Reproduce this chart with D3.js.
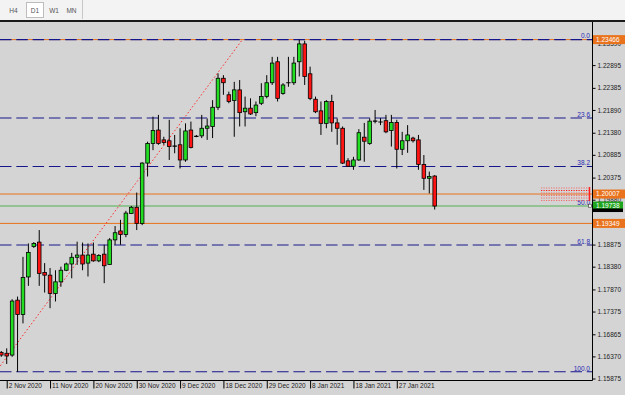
<!DOCTYPE html>
<html>
<head>
<meta charset="utf-8">
<script src="https://cdn.jsdelivr.net/npm/d3@7"></script>
<style>
body { margin: 0; background: #d4d4d4; }
svg { display: block; font-family: "Liberation Sans", Arial, sans-serif; }
</style>
</head>
<body>
<div id="chart"></div>
<script>
//Daily bars (server has Sunday bars, no 25 Dec / 1 Jan)
var dates = ["2020-11-01", "2020-11-02", "2020-11-03", "2020-11-04", "2020-11-05", "2020-11-06",
    "2020-11-08", "2020-11-09", "2020-11-10", "2020-11-11", "2020-11-12", "2020-11-13",
    "2020-11-15", "2020-11-16", "2020-11-17", "2020-11-18", "2020-11-19", "2020-11-20",
    "2020-11-22", "2020-11-23", "2020-11-24", "2020-11-25", "2020-11-26", "2020-11-27",
    "2020-11-29", "2020-11-30", "2020-12-01", "2020-12-02", "2020-12-03", "2020-12-04",
    "2020-12-06", "2020-12-07", "2020-12-08", "2020-12-09", "2020-12-10", "2020-12-11",
    "2020-12-13", "2020-12-14", "2020-12-15", "2020-12-16", "2020-12-17", "2020-12-18",
    "2020-12-20", "2020-12-21", "2020-12-22", "2020-12-23", "2020-12-24",
    "2020-12-27", "2020-12-28", "2020-12-29", "2020-12-30", "2020-12-31",
    "2021-01-03", "2021-01-04", "2021-01-05", "2021-01-06", "2021-01-07", "2021-01-08",
    "2021-01-10", "2021-01-11", "2021-01-12", "2021-01-13", "2021-01-14", "2021-01-15",
    "2021-01-17", "2021-01-18", "2021-01-19", "2021-01-20", "2021-01-21", "2021-01-22",
    "2021-01-24", "2021-01-25", "2021-01-26", "2021-01-27", "2021-01-28", "2021-01-29",
    "2021-01-31", "2021-02-01", "2021-02-02", "2021-02-03", "2021-02-04"];

var opens = [1.1646, 1.1644, 1.1640, 1.1763, 1.1731, 1.1815, 1.1883, 1.1893, 1.1825, 1.1819,
    1.1778, 1.1804, 1.1830, 1.1844, 1.1859, 1.1864, 1.1846, 1.1866, 1.1851, 1.1866,
    1.1843, 1.1898, 1.1918, 1.1910, 1.1957, 1.1971, 1.1935, 1.2070, 1.2114, 1.2144,
    1.2122, 1.2120, 1.2109, 1.2111, 1.2077, 1.2144, 1.2131, 1.2131, 1.2148, 1.2152,
    1.2195, 1.2260, 1.2223, 1.2210, 1.2234, 1.2185, 1.2193, 1.2183, 1.2204, 1.2219,
    1.2250, 1.2297, 1.2226, 1.2249, 1.2250, 1.2297, 1.2337, 1.2270, 1.2213, 1.2187,
    1.2159, 1.2208, 1.2160, 1.2148, 1.2075, 1.2063, 1.2077, 1.2128, 1.2114, 1.2165,
    1.2163, 1.2165, 1.2143, 1.2161, 1.2101, 1.2120, 1.2126, 1.2122, 1.2067, 1.2036,
    1.2041];
var highs = [1.1649, 1.1655, 1.1765, 1.1771, 1.1860, 1.1890, 1.1893, 1.1920, 1.1846, 1.1835,
    1.1830, 1.1838, 1.1847, 1.1869, 1.1894, 1.1892, 1.1890, 1.1892, 1.1866, 1.1887,
    1.1902, 1.1929, 1.1943, 1.1963, 1.1974, 1.2004, 1.2072, 1.2118, 1.2174, 1.2178,
    1.2129, 1.2167, 1.2133, 1.2148, 1.2159, 1.2163, 1.2133, 1.2178, 1.2170, 1.2211,
    1.2271, 1.2267, 1.2230, 1.2252, 1.2256, 1.2219, 1.2215, 1.2208, 1.2249, 1.2267,
    1.2308, 1.2308, 1.2249, 1.2308, 1.2308, 1.23466, 1.2344, 1.2286, 1.2219, 1.2208,
    1.2211, 1.2223, 1.2170, 1.2152, 1.2081, 1.2084, 1.2146, 1.2160, 1.2170, 1.2189,
    1.2171, 1.2178, 1.2178, 1.2167, 1.2140, 1.2155, 1.2129, 1.2133, 1.2088, 1.2051,
    1.2043];
var lows = [1.1636, 1.1620, 1.1636, 1.1602, 1.1711, 1.1795, 1.1880, 1.1795, 1.1780, 1.1745,
    1.1760, 1.1793, 1.1828, 1.1812, 1.1842, 1.1830, 1.1816, 1.1849, 1.1848, 1.1801,
    1.1842, 1.1887, 1.1887, 1.1904, 1.1956, 1.1920, 1.1931, 1.2040, 1.2099, 1.2111,
    1.2111, 1.2077, 1.2092, 1.2058, 1.2073, 1.2103, 1.2128, 1.2126, 1.2122, 1.2126,
    1.2189, 1.2223, 1.2204, 1.2129, 1.2152, 1.2152, 1.2178, 1.2175, 1.2200, 1.2215,
    1.2245, 1.2208, 1.2223, 1.2241, 1.2245, 1.2264, 1.2245, 1.2211, 1.2182, 1.2133,
    1.2148, 1.2140, 1.2111, 1.2068, 1.2062, 1.2055, 1.2075, 1.2073, 1.2111, 1.2159,
    1.2155, 1.2137, 1.2107, 1.2058, 1.2088, 1.2093, 1.2116, 1.2055, 1.2010, 1.2002,
    1.1966];
var closes = [1.1640, 1.1638, 1.1761, 1.1731, 1.1814, 1.1870, 1.1890, 1.1823, 1.1819, 1.1778,
    1.1804, 1.1830, 1.1844, 1.1859, 1.1864, 1.1844, 1.1864, 1.1851, 1.1863, 1.1840,
    1.1898, 1.1914, 1.1910, 1.1958, 1.1971, 1.1935, 1.2070, 1.2114, 1.2143, 1.2114,
    1.2116, 1.2107, 1.2108, 1.2077, 1.2142, 1.2105, 1.2130, 1.2148, 1.2153, 1.2195,
    1.2260, 1.2250, 1.2208, 1.2234, 1.2183, 1.2193, 1.2180, 1.2200, 1.2219, 1.2250,
    1.2294, 1.2215, 1.2245, 1.2250, 1.2294, 1.2337, 1.2264, 1.2215, 1.2185, 1.2159,
    1.2208, 1.2160, 1.2148, 1.2070, 1.2063, 1.2077, 1.2138, 1.2119, 1.2164, 1.2164,
    1.2162, 1.2140, 1.2161, 1.2101, 1.2120, 1.2133, 1.2120, 1.2067, 1.2036, 1.2040,
    1.19738];

var priceTicks = [1.23390, 1.22895, 1.22385, 1.21890, 1.21380, 1.20885, 1.20375, 1.19880,
    1.19370, 1.18875, 1.18380, 1.17870, 1.17375, 1.16865, 1.16370, 1.15875];

//Fibonacci retracement
var fibHigh = 1.23466;
var fibLow = 1.16025;
var fibLevels = [0, 23.6, 38.2, 50, 61.8, 100];
var fibAnchorStart = -1;     //bar index of the low anchor
var fibAnchorEnd = 44.5;     //bar index of the high anchor

var orangeLevels = [1.23466, 1.20007, 1.19349];
var bidPrice = 1.19738;
var periods = ["H4", "D1", "W1", "MN"];

var width = 625, height = 395;
var plotRight = 592.5, plotTop = 22, plotBottom = 380.5;

var svg = d3.select("#chart")
    .append("svg")
    .attr("width", width)
    .attr("height", height);

//toolbar
svg.append("rect").attr("width", width).attr("height", 20).attr("fill", "#f3f3f3");
svg.append("rect").attr("x", 26.5).attr("y", 2.5).attr("width", 17).attr("height", 15)
    .attr("fill", "#fff").attr("stroke", "#bdbdbd");
var btnX = [13.5, 35, 54, 71.5];
svg.selectAll("text.period")
    .data(periods)
    .enter()
    .append("text")
    .attr("class", "period")
    .attr("x", function (d, i) { return btnX[i]; })
    .attr("y", 13)
    .attr("text-anchor", "middle")
    .attr("font-size", "6.5px")
    .attr("fill", "#555")
    .text(function (d) { return d; });
svg.append("line").attr("x1", 82.5).attr("x2", 82.5).attr("y1", 0).attr("y2", 19)
    .attr("stroke", "#c8c8c8");
svg.append("rect").attr("y", 20).attr("width", width).attr("height", 2).attr("fill", "#1a1a1a");

//chart background
svg.append("rect").attr("y", plotTop).attr("width", width).attr("height", height - plotTop)
    .attr("fill", "#d4d4d4");

svg.append("clipPath").attr("id", "plot")
    .append("rect").attr("x", 0).attr("y", plotTop).attr("width", plotRight).attr("height", plotBottom - plotTop);

//scales
var x = d3.scaleLinear().domain([0, 80]).range([1.3, 434.7]);
var y = d3.scaleLinear().domain([1.15875, 1.23390]).range([378.5, 43]);

var plot = svg.append("g").attr("clip-path", "url(#plot)");

//price axis
var yAxis = svg.append("g")
    .attr("transform", "translate(" + plotRight + ",0)")
    .call(d3.axisRight(y).tickValues(priceTicks).tickSize(3).tickPadding(2)
        .tickFormat(d3.format(".5f")));
yAxis.select(".domain").remove();
yAxis.selectAll("text").attr("font-size", "6.5px").attr("fill", "#222").attr("font-family", null);

//time axis
var parse = d3.timeParse("%Y-%m-%d");
var fmt = d3.timeFormat("%-d %b %Y");
var tickIdx = d3.range(1, dates.length, 8);
var xAxis = svg.append("g")
    .attr("transform", "translate(0," + plotBottom + ")")
    .call(d3.axisBottom(x).tickValues(tickIdx).tickSize(8)
        .tickFormat(function (i) { return fmt(parse(dates[i])); }));
xAxis.select(".domain").remove();
xAxis.selectAll("text")
    .attr("text-anchor", "start")
    .attr("x", 1.5)
    .attr("y", 3)
    .attr("font-size", "6.5px")
    .attr("fill", "#222")
    .attr("font-family", null);

//horizontal orange lines
plot.selectAll("line.orange")
    .data(orangeLevels)
    .enter()
    .append("line")
    .attr("class", "orange")
    .attr("x1", 0).attr("x2", plotRight)
    .attr("y1", function (d) { return y(d); })
    .attr("y2", function (d) { return y(d); })
    .attr("stroke", "#e8731c")
    .attr("stroke-width", 1);

//fibo levels
var fibPrice = function (lvl) { return fibHigh - lvl / 100 * (fibHigh - fibLow); };
plot.selectAll("line.fib")
    .data(fibLevels)
    .enter()
    .append("line")
    .attr("class", "fib")
    .attr("x1", 0).attr("x2", plotRight)
    .attr("y1", function (d) { return y(fibPrice(d)); })
    .attr("y2", function (d) { return y(fibPrice(d)); })
    .attr("stroke", "#16168c")
    .attr("stroke-width", 1.05)
    .attr("stroke-dasharray", "11.5,4.8");

//bid line
plot.append("line")
    .attr("x1", 0).attr("x2", plotRight)
    .attr("y1", y(bidPrice)).attr("y2", y(bidPrice))
    .attr("stroke", "#93c293")
    .attr("stroke-width", 2);

plot.selectAll("text.fib")
    .data(fibLevels)
    .enter()
    .append("text")
    .attr("class", "fib")
    .attr("x", 590)
    .attr("y", function (d) { return y(fibPrice(d)) - 1.2; })
    .attr("text-anchor", "end")
    .attr("font-size", "6.5px")
    .attr("fill", "#2a2ab4")
    .text(function (d) { return d.toFixed(1); });

//fibo trend line
plot.append("line")
    .attr("x1", x(fibAnchorStart)).attr("y1", y(fibLow))
    .attr("x2", x(fibAnchorEnd)).attr("y2", y(fibHigh))
    .attr("stroke", "#ff2a2a")
    .attr("stroke-width", 1)
    .attr("stroke-dasharray", "1.5,2.2");

//candles
var bars = d3.range(dates.length);
plot.selectAll("line.wick")
    .data(bars)
    .enter()
    .append("line")
    .attr("class", "wick")
    .attr("x1", function (i) { return x(i); })
    .attr("x2", function (i) { return x(i); })
    .attr("y1", function (i) { return y(highs[i]); })
    .attr("y2", function (i) { return y(lows[i]); })
    .attr("stroke", "#000")
    .attr("stroke-width", 1);

plot.selectAll("rect.body")
    .data(bars.filter(function (i) { return Math.abs(y(opens[i]) - y(closes[i])) >= 1; }))
    .enter()
    .append("rect")
    .attr("class", "body")
    .attr("x", function (i) { return x(i) - 1.8; })
    .attr("width", 3.6)
    .attr("y", function (i) { return y(Math.max(opens[i], closes[i])); })
    .attr("height", function (i) { return Math.abs(y(opens[i]) - y(closes[i])); })
    .attr("fill", function (i) { return closes[i] >= opens[i] ? "#22dd22" : "#ff1414"; })
    .attr("stroke", "#000")
    .attr("stroke-width", 0.8);

plot.selectAll("line.doji")
    .data(bars.filter(function (i) { return Math.abs(y(opens[i]) - y(closes[i])) < 1; }))
    .enter()
    .append("line")
    .attr("class", "doji")
    .attr("x1", function (i) { return x(i) - 2.2; })
    .attr("x2", function (i) { return x(i) + 2.2; })
    .attr("y1", function (i) { return y(closes[i]); })
    .attr("y2", function (i) { return y(closes[i]); })
    .attr("stroke", "#000")
    .attr("stroke-width", 1.2);

//dotted trade block at the right edge
var dotRows = [188, 190.5, 193, 195.5, 198, 200.5];
plot.selectAll("line.dots")
    .data(dotRows)
    .enter()
    .append("line")
    .attr("class", "dots")
    .attr("x1", 541).attr("x2", 589)
    .attr("y1", function (d) { return d; })
    .attr("y2", function (d) { return d; })
    .attr("stroke", function (d, i) { return i == 1 ? "#ff1a1a" : "#f46a6a"; })
    .attr("stroke-width", 1)
    .attr("stroke-dasharray", "1.2,1.3");
plot.append("line").attr("x1", 589.5).attr("x2", 589.5).attr("y1", 187).attr("y2", 201)
    .attr("stroke", "#ff2020").attr("stroke-width", 1.5);
plot.append("rect").attr("x", 588.5).attr("y", y(fibPrice(50)) - 1.5).attr("width", 3).attr("height", 3)
    .attr("fill", "#fff").attr("stroke", "#333").attr("stroke-width", 0.6);

//chart borders
svg.append("line").attr("x1", plotRight).attr("x2", plotRight).attr("y1", plotTop).attr("y2", plotBottom)
    .attr("stroke", "#000");
svg.append("line").attr("x1", 0).attr("x2", plotRight).attr("y1", plotBottom).attr("y2", plotBottom)
    .attr("stroke", "#000");

//price labels on the axis
var labels = svg.append("g");
labels.append("rect").attr("x", 593).attr("y", y(bidPrice)).attr("width", 30).attr("height", 6)
    .attr("fill", "#000");
labels.selectAll("rect.orange")
    .data(orangeLevels)
    .enter()
    .append("rect")
    .attr("class", "orange")
    .attr("x", 593).attr("width", 32)
    .attr("y", function (d) { return y(d) - 4.5; })
    .attr("height", 9)
    .attr("fill", "#e8731c");
labels.append("rect").attr("x", 593).attr("y", y(bidPrice) - 4.5).attr("width", 30).attr("height", 7)
    .attr("fill", "#1ea51e");
labels.selectAll("text.tag")
    .data(orangeLevels.concat([bidPrice]))
    .enter()
    .append("text")
    .attr("class", "tag")
    .attr("x", 596)
    .attr("y", function (d) { return y(d); })
    .attr("dy", "0.35em")
    .attr("font-size", "6.5px")
    .attr("fill", "#fff")
    .text(function (d) { return d.toFixed(5); });
</script>
</body>
</html>
